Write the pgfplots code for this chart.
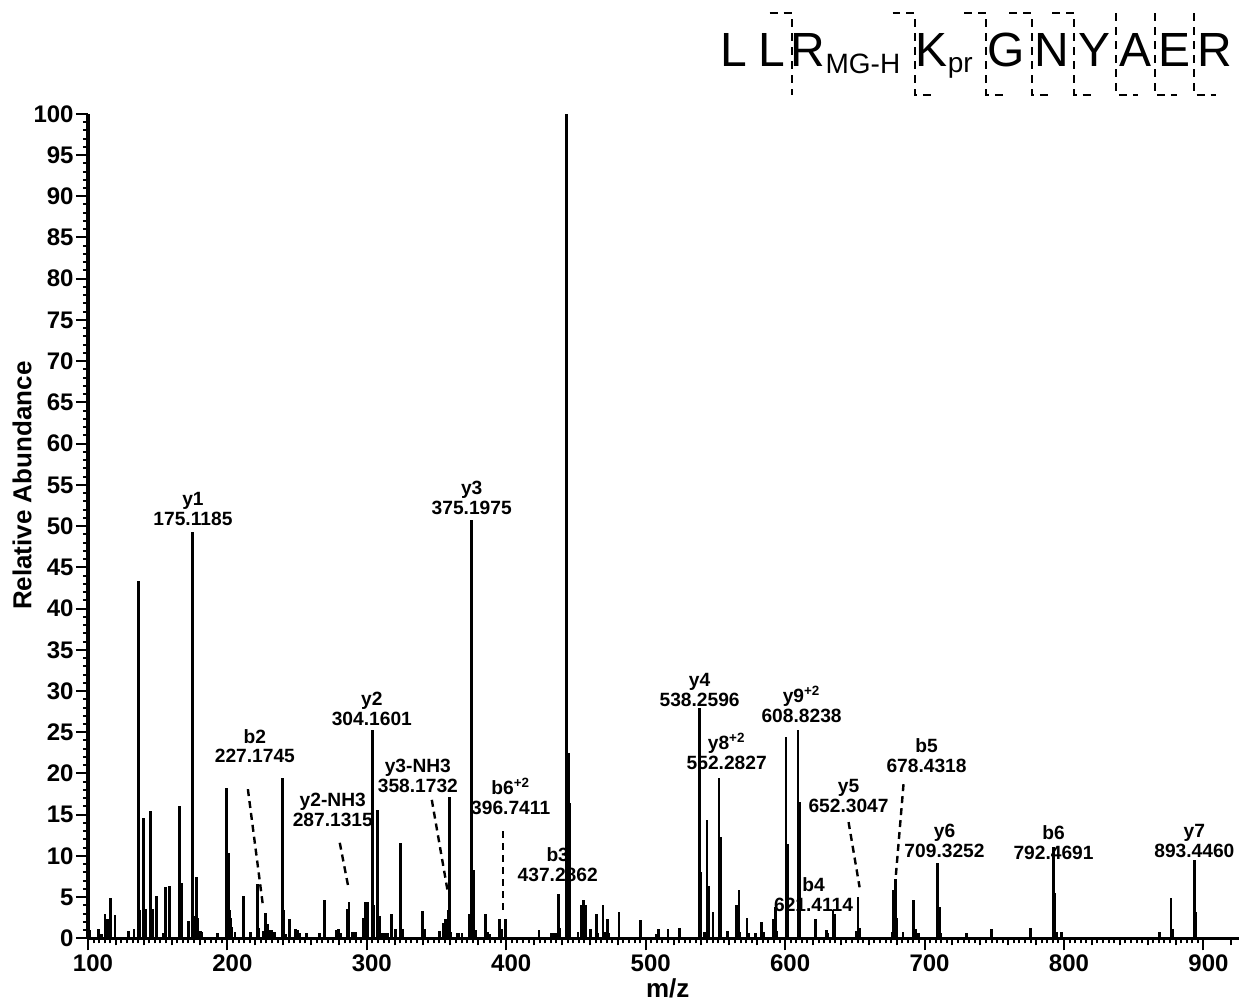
\documentclass[border=0pt]{standalone}
\usepackage{fontspec}
\setmainfont{Liberation Sans}
\usepackage{pgfplots}
\usepackage{pgfplotstable}
\pgfplotsset{compat=1.18}
\tikzset{lab/.style={anchor=south, align=center, inner sep=0pt, font=\bfseries\fontsize{9.6}{10}\selectfont}}

\pgfplotstableread{
mz int
101.4 1.0
107.4 1.1
109.8 0.5
112.2 3.0
113.9 2.4
116.3 4.9
119.4 2.8
128.9 0.9
133.0 1.1
136.1 43.4
137.3 3.4
140.1 14.6
141.0 3.6
144.9 15.4
146.3 3.6
149.2 5.2
154.0 0.7
155.9 6.2
158.3 6.4
165.9 16.0
167.4 6.7
171.9 2.1
172.5 1.6
175.1 49.3
175.9 2.7
177.9 7.5
178.9 2.5
181.0 0.9
181.8 0.8
193.0 0.6
199.4 18.2
200.6 10.4
201.4 3.5
202.2 2.5
203.3 1.4
205.4 0.8
211.4 5.2
216.7 0.8
221.4 6.6
222.6 1.3
225.7 0.9
227.2 3.1
229.0 1.7
230.5 1.0
231.7 1.0
233.9 0.8
239.3 19.5
240.5 3.5
242.1 0.5
244.3 2.4
249.0 1.1
250.6 1.0
251.8 0.7
256.6 0.7
266.2 0.6
269.4 4.7
270.0 2.4
277.9 1.0
279.5 1.1
280.9 0.6
286.1 3.6
287.2 4.4
289.9 0.8
291.8 0.8
297.6 2.5
298.8 4.4
300.2 4.4
304.1 25.3
305.0 4.0
307.4 15.6
308.0 1.0
309.5 2.7
311.2 0.7
313.6 0.6
314.8 0.7
317.6 3.0
320.7 1.1
324.2 11.6
325.6 1.1
339.9 3.3
341.1 1.2
352.3 0.9
354.6 1.9
356.5 2.4
358.2 3.4
359.5 17.2
360.3 0.8
364.6 0.6
365.8 0.7
368.2 0.6
373.8 2.9
375.2 50.7
376.6 8.3
377.8 1.0
385.3 2.9
386.5 0.8
388.0 0.5
395.3 2.4
396.7 1.2
399.6 2.4
423.5 1.0
432.4 0.6
433.6 0.7
435.5 0.7
437.3 5.4
438.5 1.3
443.3 100
444.4 22.5
445.5 16.4
451.5 0.8
453.9 4.1
455.6 4.7
456.9 4.1
460.4 1.1
464.6 3.0
465.8 0.6
469.4 4.0
470.6 0.8
472.5 2.4
473.7 0.6
480.9 3.2
496.2 2.2
507.7 0.5
508.9 1.1
516.0 1.1
524.4 1.3
538.7 27.9
539.7 8.0
541.9 0.8
543.9 14.3
544.9 6.3
548.3 3.2
552.6 19.4
553.6 12.3
558.8 0.9
565.4 4.0
566.9 5.9
567.7 0.8
572.6 2.5
573.8 0.7
578.9 0.6
582.9 2.0
584.4 0.8
591.8 2.4
593.2 3.8
594.1 0.9
600.6 24.4
601.8 11.5
609.2 25.3
610.4 16.5
621.6 2.4
629.5 1.0
630.4 0.7
634.3 3.5
635.5 2.9
650.8 0.9
652.2 5.0
653.4 1.3
676.8 0.8
677.8 5.9
679.2 7.2
680.2 2.5
684.5 0.8
692.3 4.6
693.5 1.1
695.4 0.7
709.5 9.2
710.5 3.8
711.6 0.7
729.9 0.7
747.8 1.1
775.8 1.3
792.5 11.1
793.5 5.5
794.9 0.8
798.0 0.8
868.5 0.8
876.8 4.9
877.8 1.1
893.5 9.5
894.7 3.2
}\spectrum

\begin{document}
\begin{tikzpicture}
\begin{axis}[
  scale only axis, width=576pt, height=412.5pt,
  xmin=100, xmax=925.8, ymin=0, ymax=100,
  axis x line=bottom, axis y line=left,
  axis line style={-, line width=1.6pt},
  tick align=outside,
  xtick={100,200,...,900},
  ytick={0,5,...,100},
  minor x tick num=24,
  minor y tick num=4,
  major tick length=6pt, minor tick length=2.5pt,
  tick style={black, line width=1pt},
  extra x ticks={120,140,160,180,220,240,260,280,320,340,360,380,420,440,460,480,520,540,560,580,620,640,660,680,720,740,760,780,820,840,860,880,920},
  extra x tick labels={},
  extra x tick style={major tick length=3.5pt},
  ticklabel style={font=\bfseries\fontsize{12}{12}\selectfont},
  /pgf/number format/assume math mode=true,
  xticklabel style={inner sep=0pt, yshift=-2pt, xshift=2.5pt},
  yticklabel style={inner sep=0pt, xshift=-1pt},
  xlabel={m/z}, ylabel={Relative Abundance},
  label style={font=\bfseries\fontsize{13}{13}\selectfont},
  xlabel style={at={(rel axis cs:0.5035,-0.0605)}, anchor=center},
  ylabel style={at={(rel axis cs:-0.0573,0.549)}, anchor=center},
  clip=false,
]
\addplot[ycomb, black, line width=1.4pt, mark=none] table[x=mz,y=int]{\spectrum};

\node[lab] at (axis cs:175.3,50.0) {y1\\175.1185};
\node[lab] at (axis cs:375.2,51.3) {y3\\375.1975};
\node[lab] at (axis cs:219.7,21.2) {b2\\227.1745};
\node[lab] at (axis cs:303.6,25.8) {y2\\304.1601};
\node[lab] at (axis cs:275.6,13.5) {y2-NH3\\287.1315};
\node[lab] at (axis cs:336.6,17.6) {y3-NH3\\358.1732};
\node[lab] at (axis cs:403.2,14.9) {b6\textsuperscript{+2}\\396.7411};
\node[lab] at (axis cs:436.9,6.8) {b3\\437.2862};
\node[lab] at (axis cs:538.7,28.1) {y4\\538.2596};
\node[lab] at (axis cs:558.1,20.4) {y8\textsuperscript{+2}\\552.2827};
\node[lab] at (axis cs:611.8,26.1) {y9\textsuperscript{+2}\\608.8238};
\node[lab] at (axis cs:645.5,15.2) {y5\\652.3047};
\node[lab] at (axis cs:701.4,20.1) {b5\\678.4318};
\node[lab] at (axis cs:620.4,3.2) {b4\\621.4114};
\node[lab] at (axis cs:714.3,9.7) {y6\\709.3252};
\node[lab] at (axis cs:792.5,9.5) {b6\\792.4691};
\node[lab] at (axis cs:893.5,9.7) {y7\\893.4460};

\begin{scope}[line width=1.2pt, dash pattern=on 3.5pt off 2.5pt]
\draw (axis cs:214.7,18.1) -- (axis cs:225.4,4.1);
\draw (axis cs:280.6,11.6) -- (axis cs:287.1,5.9);
\draw (axis cs:346.6,16.8) -- (axis cs:358.1,5.6);
\draw (axis cs:397.5,13.0) -- (axis cs:397.5,3.5);
\draw (axis cs:645.5,14.1) -- (axis cs:653.4,6.2);
\draw (axis cs:684.9,18.7) -- (axis cs:679.2,7.2);
\end{scope}

% peptide sequence header
\begin{scope}[every node/.style={inner sep=0pt, font=\fontsize{24}{24}\selectfont}]
\node[anchor=base] at (axis cs:563.1,105.7) {L};
\node[anchor=base] at (axis cs:590.3,105.7) {L};
\node[anchor=base west] at (axis cs:603.9,105.7) {R\raisebox{-3.5pt}{\fontsize{14}{14}\selectfont MG-H}};
\node[anchor=base west] at (axis cs:693.5,105.7) {K\raisebox{-3pt}{\fontsize{14}{14}\selectfont pr}};
\node[anchor=base] at (axis cs:758.8,105.7) {G};
\node[anchor=base] at (axis cs:791.0,105.7) {N};
\node[anchor=base] at (axis cs:821.9,105.7) {Y};
\node[anchor=base] at (axis cs:851.3,105.7) {A};
\node[anchor=base] at (axis cs:879.2,105.7) {E};
\node[anchor=base] at (axis cs:907.9,105.7) {R};
\end{scope}
\begin{scope}[line width=1pt, dash pattern=on 4pt off 3pt]
\draw (axis cs:588.9,112.2) -- (axis cs:604.7,112.2) -- (axis cs:604.7,102.3);
\draw (axis cs:677.0,112.2) -- (axis cs:692.8,112.2) -- (axis cs:692.8,102.3) -- (axis cs:708.6,102.3);
\draw (axis cs:728.6,112.2) -- (axis cs:744.4,112.2) -- (axis cs:744.4,102.3) -- (axis cs:760.2,102.3);
\draw (axis cs:760.9,112.2) -- (axis cs:776.7,112.2) -- (axis cs:776.7,102.3) -- (axis cs:792.5,102.3);
\draw (axis cs:791.7,112.2) -- (axis cs:807.5,112.2) -- (axis cs:807.5,102.3) -- (axis cs:823.3,102.3);
\draw (axis cs:837.6,112.2) -- (axis cs:837.6,102.3) -- (axis cs:853.4,102.3);
\draw (axis cs:864.9,112.2) -- (axis cs:864.9,102.3) -- (axis cs:880.7,102.3);
\draw (axis cs:893.5,112.2) -- (axis cs:893.5,102.3) -- (axis cs:909.3,102.3);
\end{scope}

\path (axis cs:36.92,-7.39) rectangle (axis cs:926.5,113.8);
\end{axis}
\end{tikzpicture}
\end{document}
